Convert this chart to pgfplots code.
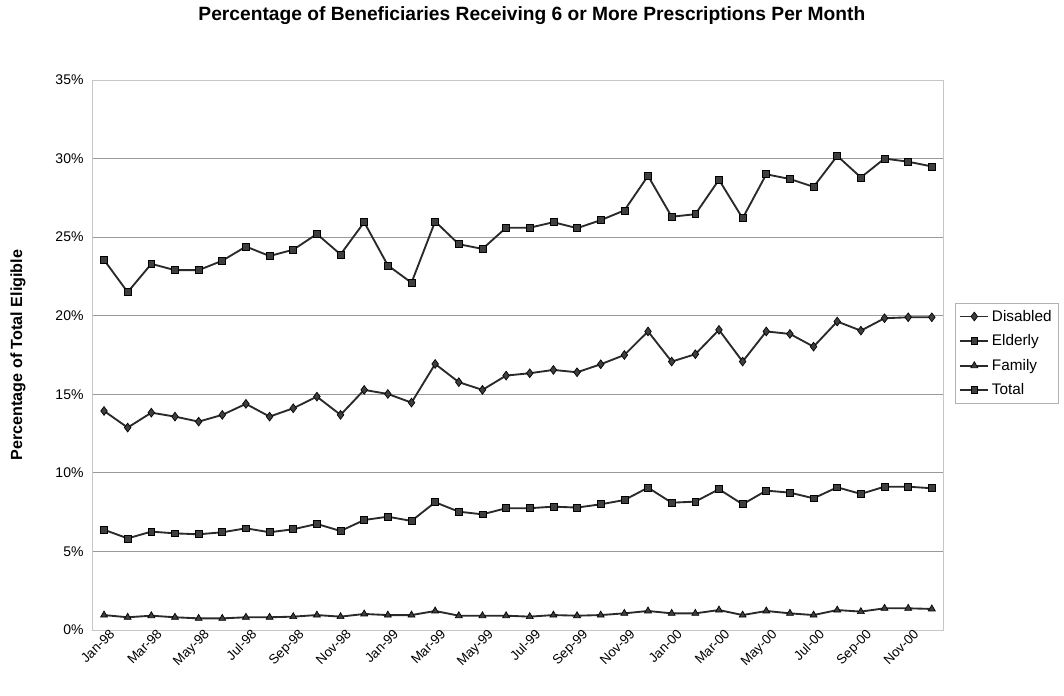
\documentclass[border=0pt]{standalone}
\usepackage{fontspec}
\setmainfont{Liberation Sans}
\usepackage{pgfplots}
\usepackage{pgfplotstable}
\pgfplotsset{compat=1.18}
\definecolor{linec}{HTML}{2A2A2A}
\definecolor{markc}{HTML}{3E3E3E}
\definecolor{gridc}{HTML}{9A9A9A}

\pgfplotstableread{
x dis eld fam tot
0  13.94 23.55 0.95 6.38
1  12.88 21.50 0.81 5.83
2  13.83 23.30 0.91 6.26
3  13.58 22.90 0.81 6.15
4  13.26 22.90 0.74 6.09
5  13.69 23.50 0.74 6.22
6  14.39 24.40 0.81 6.47
7  13.58 23.80 0.81 6.22
8  14.11 24.20 0.85 6.41
9  14.85 25.20 0.95 6.75
10 13.69 23.90 0.85 6.30
11 15.28 25.95 1.02 7.00
12 15.02 23.20 0.95 7.21
13 14.47 22.10 0.95 6.94
14 16.93 26.00 1.21 8.13
15 15.77 24.55 0.91 7.53
16 15.28 24.25 0.91 7.36
17 16.19 25.60 0.91 7.75
18 16.34 25.60 0.85 7.75
19 16.55 25.95 0.95 7.85
20 16.40 25.57 0.91 7.79
21 16.91 26.08 0.95 8.00
22 17.50 26.70 1.06 8.27
23 19.00 28.90 1.21 9.06
24 17.08 26.30 1.06 8.10
25 17.55 26.46 1.06 8.17
26 19.10 28.65 1.27 8.96
27 17.08 26.20 0.95 8.00
28 19.00 29.00 1.21 8.87
29 18.84 28.70 1.06 8.74
30 18.03 28.20 0.95 8.38
31 19.63 30.17 1.27 9.08
32 19.05 28.80 1.17 8.66
33 19.84 30.00 1.38 9.12
34 19.90 29.80 1.38 9.12
35 19.90 29.50 1.34 9.02
}\data

\begin{document}
\begin{tikzpicture}
\useasboundingbox (0,0) rectangle (798pt,522pt);
\begin{axis}[
  at={(69.15pt,49.5pt)}, anchor=south west,
  scale only axis, width=638.6pt, height=412.5pt,
  xmin=-0.5, xmax=35.5, ymin=0, ymax=35,
  xtick={0,2,...,34},
  xticklabels={Jan-98,Mar-98,May-98,Jul-98,Sep-98,Nov-98,Jan-99,Mar-99,May-99,Jul-99,Sep-99,Nov-99,Jan-00,Mar-00,May-00,Jul-00,Sep-00,Nov-00},
  xticklabel style={rotate=45, anchor=north east, font=\fontsize{10}{12}\selectfont, inner sep=0.5pt, xshift=4pt, yshift=-1pt},
  ytick={0,5,...,35},
  yticklabels={0\%,5\%,10\%,15\%,20\%,25\%,30\%,35\%},
  yticklabel style={font=\fontsize{10.5}{12}\selectfont, xshift=-3pt},
  ymajorgrids, grid style={gridc, line width=0.7pt},
  axis line style={gray!45},
  major tick length=0pt,
  title={Percentage of Beneficiaries Receiving 6 or More Prescriptions Per Month},
  title style={font=\bfseries\fontsize{14.4}{16}\selectfont, at={(axis description cs:0.5,1)}, anchor=center, yshift=42.5pt, xshift=10.5pt},
  ylabel={Percentage of Total Eligible},
  ylabel style={font=\bfseries\fontsize{12.1}{14}\selectfont, at={(axis description cs:-0.0872,0.5)}, anchor=center},
  legend style={at={(1.0134,0.5945)}, anchor=north west, draw=gray!60, font=\fontsize{11.5}{13}\selectfont, row sep=4.6pt, inner sep=3pt},
  legend cell align=left,
  legend image code/.code={\pgfsetlinewidth{1.4pt}\draw[draw=linec, line width=1.4pt] (0cm,0cm) -- (0.74cm,0cm);\draw[#1,only marks] plot coordinates {(0.37cm,0cm)};},
]
\addplot[linec, line width=1.4pt, mark=diamond*, mark size=3.3pt, mark options={fill=markc, draw=black, line width=0.5pt, solid}] table[x=x,y=dis]{\data};
\addlegendentry{Disabled}
\addplot[linec, line width=1.4pt, mark=square*, mark size=2.6pt, mark options={fill=markc, draw=black, line width=0.5pt, solid}] table[x=x,y=eld]{\data};
\addlegendentry{Elderly}
\addplot[linec, line width=1.4pt, mark=triangle*, mark size=3pt, mark options={fill=markc, draw=black, line width=0.5pt, solid}] table[x=x,y=fam]{\data};
\addlegendentry{Family}
\addplot[linec, line width=1.4pt, mark=square*, mark size=2.6pt, mark options={fill=markc, draw=black, line width=0.5pt, solid}] table[x=x,y=tot]{\data};
\addlegendentry{Total}
\end{axis}
\end{tikzpicture}
\end{document}
